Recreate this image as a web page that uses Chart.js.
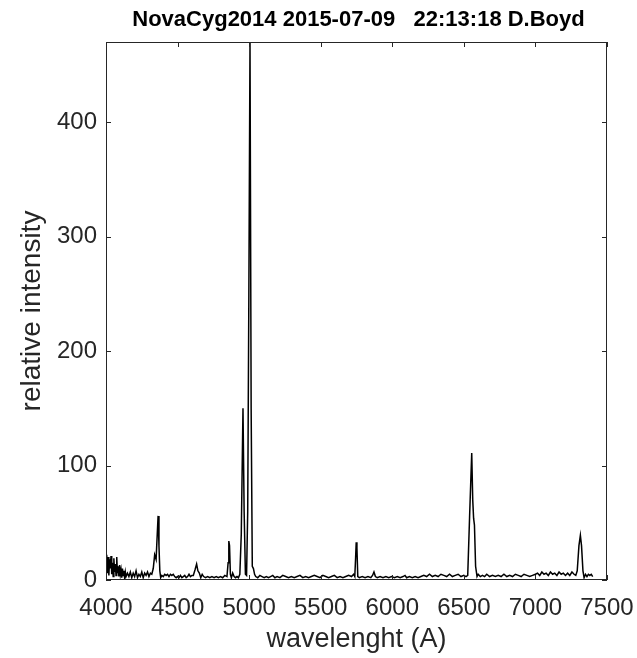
<!DOCTYPE html>
<html>
<head>
<meta charset="utf-8">
<script src="https://cdn.jsdelivr.net/npm/chart.js@4/dist/chart.umd.min.js"></script>
<style>
  html, body { margin: 0; padding: 0; background: #fff; }
  #wrap { width: 637px; height: 658px; }
</style>
</head>
<body>
<div id="wrap"><canvas id="spec" width="637" height="658"></canvas></div>
<script>
const chartTitle = 'NovaCyg2014 2015-07-09   22:13:18 D.Boyd';
const xTicks = [4000, 4500, 5000, 5500, 6000, 6500, 7000, 7500];
const yTicks = [0, 100, 200, 300, 400];

// wavelength (A) and relative intensity
const wavelength = [
  4000, 4005, 4010, 4015, 4020, 4025, 4030, 4035, 4040, 4045, 4050, 4055, 4060, 4065, 4070,
  4075, 4080, 4085, 4090, 4095, 4100, 4105, 4110, 4115, 4120, 4125, 4130, 4135, 4140,
  4150, 4160, 4170, 4180, 4190, 4200, 4210, 4220, 4230, 4240, 4250, 4260, 4270, 4280, 4290,
  4300, 4310, 4320, 4330, 4340, 4350, 4358, 4364, 4370, 4376, 4382, 4390, 4400, 4410, 4420,
  4430, 4440, 4450, 4460, 4470, 4480, 4490, 4500, 4510, 4520, 4530, 4540, 4550, 4560, 4570,
  4580, 4590, 4600, 4610, 4622, 4633, 4642, 4652, 4662, 4672, 4682, 4695, 4710, 4725, 4740,
  4755, 4770, 4785, 4800, 4815, 4830, 4845, 4853, 4858, 4863, 4869, 4876, 4885, 4895, 4905,
  4915, 4925, 4935, 4945, 4957, 4965, 4974, 4982, 4990, 4998, 5006, 5014, 5022, 5030, 5038,
  5046, 5060, 5075, 5090, 5105, 5120, 5135, 5150, 5165, 5180, 5195, 5215, 5235, 5255, 5275,
  5295, 5315, 5335, 5355, 5375, 5395, 5415, 5435, 5455, 5475, 5495, 5515, 5535, 5555, 5575,
  5595, 5615, 5635, 5655, 5675, 5695, 5715, 5730, 5738, 5744, 5748, 5753, 5759, 5770, 5790,
  5810, 5830, 5850, 5862, 5872, 5882, 5895, 5915, 5935, 5955, 5975, 5995, 6015, 6035, 6055,
  6075, 6089, 6100, 6120, 6140, 6160, 6180, 6200, 6220, 6240, 6260, 6280, 6300, 6320, 6340,
  6360, 6380, 6400, 6420, 6440, 6460, 6480, 6500, 6515, 6527, 6540, 6555, 6562, 6568, 6574,
  6582, 6592, 6600, 6615, 6630, 6645, 6660, 6680, 6700, 6720, 6740, 6760, 6780, 6800, 6820,
  6840, 6860, 6880, 6900, 6920, 6940, 6960, 6980, 7000, 7015, 7030, 7045, 7060, 7075, 7090,
  7105, 7120, 7135, 7150, 7165, 7180, 7195, 7210, 7225, 7240, 7255, 7270, 7282, 7292, 7304,
  7314, 7322, 7332, 7340, 7350, 7360, 7370, 7380, 7390, 7400
];
const intensity = [
  8, 22, 6, 20, 4, 18, 10, 21, 5, 15, 3, 19, 7, 14, 4,
  20, 6, 12, 3, 13, 5, 9, 2, 10, 4, 8, 2, 7, 3,
  6, 3, 7, 2, 6, 3, 8, 2, 5, 3, 7, 2, 6, 4, 7,
  3, 6, 5, 10, 22, 18, 40, 56, 30, 8, 2, 4, 3, 5, 4,
  5, 3, 5, 4, 5, 3, 2, 3, 2, 4, 2, 3, 4, 2, 3,
  5, 3, 4, 4, 9, 14, 8, 6, 2, 5, 3, 2, 3, 2, 3,
  2, 3, 2, 3, 2, 4, 3, 15, 34, 30, 5, 2, 6, 3, 2,
  3, 2, 5, 40, 150, 60, 5, 4, 60, 250, 470, 150, 12, 10, 5,
  3, 2, 4, 3, 2, 3, 2, 3, 4, 2, 3, 2, 4, 3, 2,
  3, 2, 3, 4, 2, 3, 2, 3, 4, 3, 2, 4, 3, 2, 3,
  4, 2, 3, 2, 3, 4, 3, 5, 3, 20, 33, 28, 3, 2, 3,
  2, 3, 2, 4, 7, 3, 2, 3, 2, 3, 2, 3, 2, 3, 2,
  3, 4, 2, 3, 2, 3, 2, 3, 4, 3, 5, 3, 4, 3, 5,
  4, 3, 5, 3, 4, 5, 3, 4, 3, 4, 55, 111, 70, 54, 48,
  12, 3, 5, 3, 4, 3, 5, 3, 4, 3, 4, 3, 5, 3, 4,
  3, 5, 4, 3, 5, 4, 3, 4, 5, 6, 4, 7, 5, 6, 4,
  7, 5, 6, 4, 7, 5, 6, 4, 6, 4, 7, 5, 4, 8, 30,
  39, 30, 8, 2, 5, 3, 5, 4, 5, 3
];

const points = wavelength.map((w, i) => ({ x: w, y: intensity[i] }));

const axisColor = '#262626';
const fontFamily = '"Liberation Sans", Arial, Helvetica, sans-serif';

// MATLAB-like box: frame plus inward ticks on all four sides, and the title
const boxPlugin = {
  id: 'boxPlugin',
  afterDraw(chart) {
    const { ctx, chartArea: a, scales } = chart;
    ctx.save();
    ctx.strokeStyle = axisColor;
    ctx.lineWidth = 1;
    ctx.strokeRect(a.left + 0.5, a.top + 0.5, a.right - a.left - 1, a.bottom - a.top - 1);
    const len = 5;
    ctx.beginPath();
    xTicks.forEach(v => {
      const px = Math.round(scales.x.getPixelForValue(v)) + 0.5;
      ctx.moveTo(px, a.bottom); ctx.lineTo(px, a.bottom - len);
      ctx.moveTo(px, a.top); ctx.lineTo(px, a.top + len);
    });
    yTicks.forEach(v => {
      const py = Math.round(scales.y.getPixelForValue(v)) + 0.5;
      ctx.moveTo(a.left, py); ctx.lineTo(a.left + len, py);
      ctx.moveTo(a.right, py); ctx.lineTo(a.right - len, py);
    });
    ctx.stroke();

    ctx.fillStyle = '#000';
    ctx.font = 'bold 22px ' + fontFamily;
    ctx.textAlign = 'center';
    ctx.textBaseline = 'alphabetic';
    ctx.fillText(chartTitle, (a.left + a.right) / 2 + 2, 26);
    ctx.restore();
  }
};

new Chart(document.getElementById('spec'), {
  type: 'line',
  data: {
    datasets: [{
      data: points,
      borderColor: '#000',
      borderWidth: 1.5,
      pointRadius: 0,
      tension: 0,
      fill: false
    }]
  },
  options: {
    responsive: false,
    animation: false,
    events: [],
    layout: { padding: { left: 0, right: 30, top: 42, bottom: 0 } },
    plugins: { legend: { display: false }, tooltip: { enabled: false }, title: { display: false } },
    scales: {
      x: {
        type: 'linear',
        min: 4000,
        max: 7500,
        afterFit: s => { s.height = 78; s.paddingLeft = 0; s.paddingRight = 0; },
        afterBuildTicks: s => { s.ticks = xTicks.map(v => ({ value: v })); },
        grid: { display: false, drawTicks: false },
        border: { display: false },
        ticks: {
          color: axisColor, padding: 14, font: { family: fontFamily, size: 24 },
          callback: v => String(v)
        },
        title: {
          display: true,
          text: 'wavelenght (A)',
          color: axisColor,
          padding: { top: 0, bottom: 2 },
          font: { family: fontFamily, size: 27 }
        }
      },
      y: {
        type: 'linear',
        min: 0,
        max: 470,
        afterFit: s => { s.width = 106; s.paddingTop = 0; s.paddingBottom = 0; },
        afterBuildTicks: s => { s.ticks = yTicks.map(v => ({ value: v })); },
        grid: { display: false, drawTicks: false },
        border: { display: false },
        ticks: {
          color: axisColor, padding: 9, font: { family: fontFamily, size: 24 },
          callback: v => String(v)
        },
        title: {
          display: true,
          text: 'relative intensity',
          color: axisColor,
          padding: { top: 15, bottom: 0 },
          font: { family: fontFamily, size: 28 }
        }
      }
    }
  },
  plugins: [boxPlugin]
});
</script>
</body>
</html>
